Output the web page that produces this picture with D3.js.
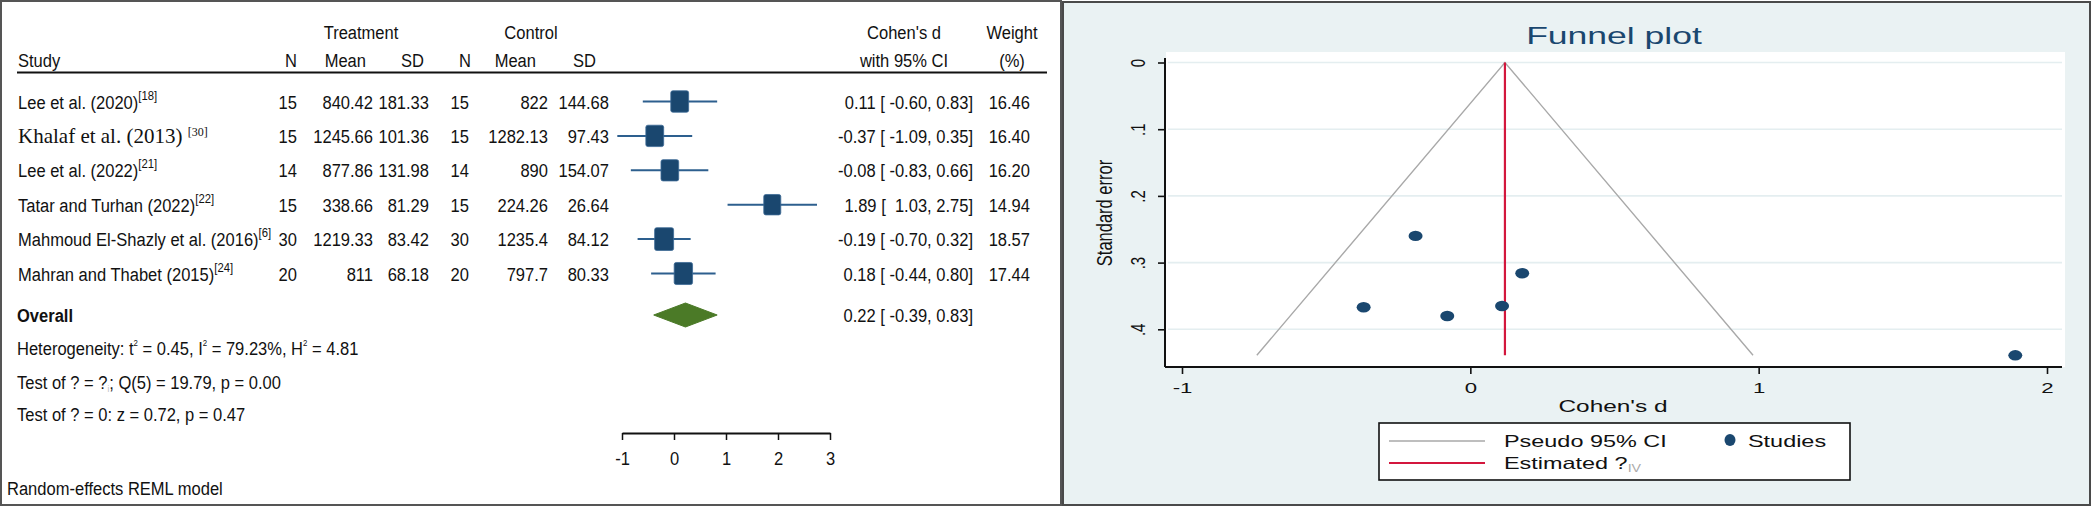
<!DOCTYPE html>
<html><head><meta charset="utf-8">
<script src="https://cdn.jsdelivr.net/npm/d3@7"></script>
<style>
html,body{margin:0;padding:0;background:#fff;}
svg{display:block;}
text{white-space:pre;}
</style></head>
<body>
<svg id="chart" width="2092" height="507"></svg>
<script>
// ---------- DATA ----------
const studies = ["Lee et al. (2020)", "Khalaf et al. (2013) ", "Lee et al. (2022)", "Tatar and Turhan (2022)", "Mahmoud El-Shazly et al. (2016)", "Mahran and Thabet (2015)"];
const refs = ["[18]", "[30]", "[21]", "[22]", "[6]", "[24]"];
const tN = [15, 15, 14, 15, 30, 20];
const tMean = [840.42, 1245.66, 877.86, 338.66, 1219.33, 811];
const tSD = [181.33, 101.36, 131.98, 81.29, 83.42, 68.18];
const cN = [15, 15, 14, 15, 30, 20];
const cMean = [822, 1282.13, 890, 224.26, 1235.4, 797.7];
const cSD = [144.68, 97.43, 154.07, 26.64, 84.12, 80.33];
const effect = [0.11, -0.37, -0.08, 1.89, -0.19, 0.18];
const ciLow = [-0.60, -1.09, -0.83, 1.03, -0.70, -0.44];
const ciHigh = [0.83, 0.35, 0.66, 2.75, 0.32, 0.80];
const weight = [16.46, 16.40, 16.20, 14.94, 18.57, 17.44];
const stdErr = [0.365, 0.367, 0.380, 0.439, 0.260, 0.316];
const overall = [0.22, -0.39, 0.83];           // estimate, low, high
const forestTicks = [-1, 0, 1, 2, 3];
const funnelXTicks = [-1, 0, 1, 2];
const funnelYTicks = [0, 0.1, 0.2, 0.3, 0.4];
const funnelYLabels = ["0", ".1", ".2", ".3", ".4"];
const thetaIV = 0.12;
const statLines = ["Test of ? = ?", "Test of ? = 0: z = 0.72, p = 0.47"];

// ---------- HELPERS ----------
const svg = d3.select("#chart");
const SANS = "'Liberation Sans', Arial, sans-serif";
const SERIF = "'Liberation Serif', 'Times New Roman', serif";
function txt(g, x, y, s, o = {}) {
  return g.append("text")
    .attr("transform", `translate(${x},${y}) scale(${o.sx || 1},1)`)
    .attr("text-anchor", o.anchor || "start")
    .attr("font-family", o.family || SANS)
    .attr("font-size", o.size || 19)
    .attr("font-weight", o.weight || "normal")
    .attr("fill", o.fill || "#111")
    .text(s);
}
const fmt2 = v => v.toFixed(2);
const padLo = v => (v < 0 ? " " : "  ") + fmt2(v);

// ---------- LEFT PANEL: FOREST PLOT ----------
const L = svg.append("g");
L.append("rect").attr("x", 1).attr("y", 1).attr("width", 1060).attr("height", 504)
  .attr("fill", "#fff").attr("stroke", "#555").attr("stroke-width", 2);

const FS = 19, SX = 0.87;
const fx = d3.scaleLinear().domain([-1, 3]).range([622, 830]);
const fy = d3.scaleLinear().domain([0, studies.length - 1]).range([101.5, 273.5]);

// header
txt(L, 361, 39, "Treatment", {anchor: "middle", sx: SX});
txt(L, 531, 39, "Control", {anchor: "middle", sx: SX});
txt(L, 904, 39, "Cohen's d", {anchor: "middle", sx: SX});
txt(L, 1012, 39, "Weight", {anchor: "middle", sx: SX});
txt(L, 18, 67, "Study", {sx: SX});
[[297, "N"], [366, "Mean"], [424, "SD"], [471, "N"], [536, "Mean"], [596, "SD"]]
  .forEach(([x, s]) => txt(L, x, 67, s, {anchor: "end", sx: SX}));
txt(L, 904, 67, "with 95% CI", {anchor: "middle", sx: SX});
txt(L, 1012, 67, "(%)", {anchor: "middle", sx: SX});
L.append("line").attr("x1", 17).attr("x2", 1047).attr("y1", 72.5).attr("y2", 72.5)
  .attr("stroke", "#111").attr("stroke-width", 2);

// study rows
studies.forEach((s, i) => {
  const y = fy(i), b = y + 7;
  if (i === 1) {
    const t = txt(L, 18, b, s, {family: SERIF, size: 21, sx: 1.0});
    t.append("tspan").attr("font-size", 12).attr("dy", -7).text(refs[i]);
  } else {
    const t = txt(L, 18, b, s, {sx: SX});
    t.append("tspan").attr("font-size", 13).attr("dy", -9).text(refs[i]);
  }
  txt(L, 297, b, String(tN[i]), {anchor: "end", sx: SX});
  txt(L, 373, b, String(tMean[i]), {anchor: "end", sx: SX});
  txt(L, 429, b, String(tSD[i]), {anchor: "end", sx: SX});
  txt(L, 469, b, String(cN[i]), {anchor: "end", sx: SX});
  txt(L, 548, b, String(cMean[i]), {anchor: "end", sx: SX});
  txt(L, 609, b, String(cSD[i]), {anchor: "end", sx: SX});
  txt(L, 973, b, `${fmt2(effect[i])} [${padLo(ciLow[i])}, ${fmt2(ciHigh[i])}]`, {anchor: "end", sx: SX});
  txt(L, 1030, b, fmt2(weight[i]), {anchor: "end", sx: SX});
});

// CI lines and boxes
L.selectAll("line.ci").data(studies).join("line").attr("class", "ci")
  .attr("x1", (d, i) => fx(ciLow[i])).attr("x2", (d, i) => fx(ciHigh[i]))
  .attr("y1", (d, i) => fy(i)).attr("y2", (d, i) => fy(i))
  .attr("stroke", "#2d5f8e").attr("stroke-width", 2);
L.selectAll("rect.box").data(studies).join("rect").attr("class", "box")
  .each(function (d, i) {
    const w = 4.4 * Math.sqrt(weight[i]), h = w * 1.2;
    d3.select(this).attr("x", fx(effect[i]) - w / 2).attr("y", fy(i) - h / 2)
      .attr("width", w).attr("height", h).attr("rx", 2)
      .attr("fill", "#1a476f").attr("stroke", "#3c6a95").attr("stroke-width", 0.8);
  });

// overall
const oy = 315;
txt(L, 17, oy + 7, "Overall", {sx: SX, weight: "bold"});
L.append("path")
  .attr("d", `M${fx(overall[1])},${oy} L${fx(overall[0])},${oy - 12} L${fx(overall[2])},${oy} L${fx(overall[0])},${oy + 12} Z`)
  .attr("fill", "#4b7a27").attr("stroke", "#4b7a27").attr("stroke-width", 1);
txt(L, 973, oy + 7, `${fmt2(overall[0])} [${padLo(overall[1])}, ${fmt2(overall[2])}]`, {anchor: "end", sx: SX});

// heterogeneity and tests
const het = txt(L, 17, 355, "Heterogeneity: t", {sx: SX});
het.append("tspan").attr("font-size", 9).attr("dy", -9).text("2");
het.append("tspan").attr("dy", 9).text(" = 0.45, I");
het.append("tspan").attr("font-size", 9).attr("dy", -9).text("2");
het.append("tspan").attr("dy", 9).text(" = 79.23%, H");
het.append("tspan").attr("font-size", 9).attr("dy", -9).text("2");
het.append("tspan").attr("dy", 9).text(" = 4.81");
const t1 = txt(L, 17, 389, statLines[0], {sx: SX});
t1.append("tspan").attr("font-size", 9).attr("fill", "#bbb").attr("dy", 3).text("i");
t1.append("tspan").attr("dy", -3).text("; Q(5) = 19.79, p = 0.00");
txt(L, 17, 421, statLines[1], {sx: SX});
txt(L, 7, 495, "Random-effects REML model", {sx: SX});

// forest axis
const fAxis = L.append("g").attr("transform", "translate(0,433)")
  .call(d3.axisBottom(fx).tickValues(forestTicks).tickSize(7).tickSizeOuter(0).tickFormat(d3.format("d")));
fAxis.select(".domain").attr("stroke", "#111").attr("stroke-width", 2);
fAxis.selectAll(".tick line").attr("stroke", "#111").attr("stroke-width", 1.5);
fAxis.selectAll(".tick text").attr("y", 32).attr("dy", null)
  .attr("font-family", SANS).attr("font-size", FS).attr("fill", "#111")
  .attr("transform", `scale(${SX},1)`).text(d => d < 0 ? "-" + Math.abs(d) : d);

// ---------- RIGHT PANEL: FUNNEL PLOT ----------
const R = svg.append("g");
const RSX = 1.48;
R.append("rect").attr("x", 1063).attr("y", 2).attr("width", 1027).attr("height", 503)
  .attr("fill", "#eaf2f3").attr("stroke", "#4a4a4a").attr("stroke-width", 2);
R.append("rect").attr("x", 1166).attr("y", 52).attr("width", 899).attr("height", 315).attr("fill", "#fff");

const gx = d3.scaleLinear().domain([-1, 2]).range([1182, 2047]);
const gy = d3.scaleLinear().domain([0, 0.4]).range([62.5, 329.3]);

// gridlines
R.selectAll("line.grid").data(funnelYTicks).join("line").attr("class", "grid")
  .attr("x1", 1168).attr("x2", 2062).attr("y1", d => gy(d)).attr("y2", d => gy(d))
  .attr("stroke", "#e4eef0").attr("stroke-width", 1.6);

// title
txt(R, 1614, 44, "Funnel plot", {anchor: "middle", size: 24, sx: RSX, fill: "#1a476f"});

// pseudo CI funnel
const seMax = d3.max(stdErr);
const funnel = d3.line().x(d => gx(d[0])).y(d => gy(d[1]));
R.append("path")
  .attr("d", funnel([[thetaIV - 1.96 * seMax, seMax], [thetaIV, 0], [thetaIV + 1.96 * seMax, seMax]]))
  .attr("fill", "none").attr("stroke", "#a9a9a9").attr("stroke-width", 1.4);
// estimated theta
R.append("line").attr("x1", gx(thetaIV)).attr("x2", gx(thetaIV)).attr("y1", gy(0)).attr("y2", gy(seMax))
  .attr("stroke", "#d3173d").attr("stroke-width", 2.2);

// studies
R.selectAll("ellipse.pt").data(effect).join("ellipse").attr("class", "pt")
  .attr("cx", d => gx(d)).attr("cy", (d, i) => gy(stdErr[i]))
  .attr("rx", 7).attr("ry", 5.2).attr("fill", "#1a476f");

// axes
const xAx = R.append("g").attr("transform", "translate(0,367)")
  .call(d3.axisBottom(gx).tickValues(funnelXTicks).tickSize(7).tickSizeOuter(0).tickFormat(d => d < 0 ? "-" + Math.abs(d) : String(d)));
xAx.select(".domain").attr("d", "M1165,0H2062").attr("stroke", "#111").attr("stroke-width", 2);
xAx.selectAll(".tick line").attr("stroke", "#111").attr("stroke-width", 1.6);
xAx.selectAll(".tick text").attr("y", 26).attr("dy", null)
  .attr("font-family", SANS).attr("font-size", 15).attr("fill", "#111")
  .attr("transform", `scale(${RSX},1)`);

const yAx = R.append("g").attr("transform", "translate(1165,0)")
  .call(d3.axisLeft(gy).tickValues(funnelYTicks).tickSize(7).tickSizeOuter(0).tickFormat((d, i) => funnelYLabels[i]));
yAx.select(".domain").attr("d", "M0,58V367").attr("stroke", "#111").attr("stroke-width", 2);
yAx.selectAll(".tick line").attr("stroke", "#111").attr("stroke-width", 1.6);
yAx.selectAll(".tick text").attr("x", null).attr("dy", null).attr("text-anchor", "middle")
  .attr("font-family", SANS).attr("font-size", 15).attr("fill", "#111")
  .attr("transform", "translate(-20,0) rotate(-90) scale(1,1.3)");

txt(R, 1613, 412, "Cohen's d", {anchor: "middle", size: 16.5, sx: RSX});
R.append("text").attr("transform", "translate(1112,213) rotate(-90) scale(1,1.3)")
  .attr("text-anchor", "middle").attr("font-family", SANS).attr("font-size", 16.5).attr("fill", "#111")
  .text("Standard error");

// legend
R.append("rect").attr("x", 1379).attr("y", 423).attr("width", 471).attr("height", 57)
  .attr("fill", "#fff").attr("stroke", "#111").attr("stroke-width", 1.6);
R.append("line").attr("x1", 1389).attr("x2", 1485).attr("y1", 441).attr("y2", 441)
  .attr("stroke", "#a9a9a9").attr("stroke-width", 1.4);
txt(R, 1504, 447, "Pseudo 95% CI", {size: 16.5, sx: 1.42});
R.append("ellipse").attr("cx", 1730).attr("cy", 440).attr("rx", 5.5).attr("ry", 6).attr("fill", "#1a476f");
txt(R, 1748, 447, "Studies", {size: 16.5, sx: 1.42});
R.append("line").attr("x1", 1389).attr("x2", 1485).attr("y1", 463).attr("y2", 463)
  .attr("stroke", "#d3173d").attr("stroke-width", 2.2);
const est = txt(R, 1504, 469, "Estimated ?", {size: 16.5, sx: 1.42});
est.append("tspan").attr("font-size", 10).attr("fill", "#aaa").attr("dy", 3).text("IV");
</script>
</body></html>
